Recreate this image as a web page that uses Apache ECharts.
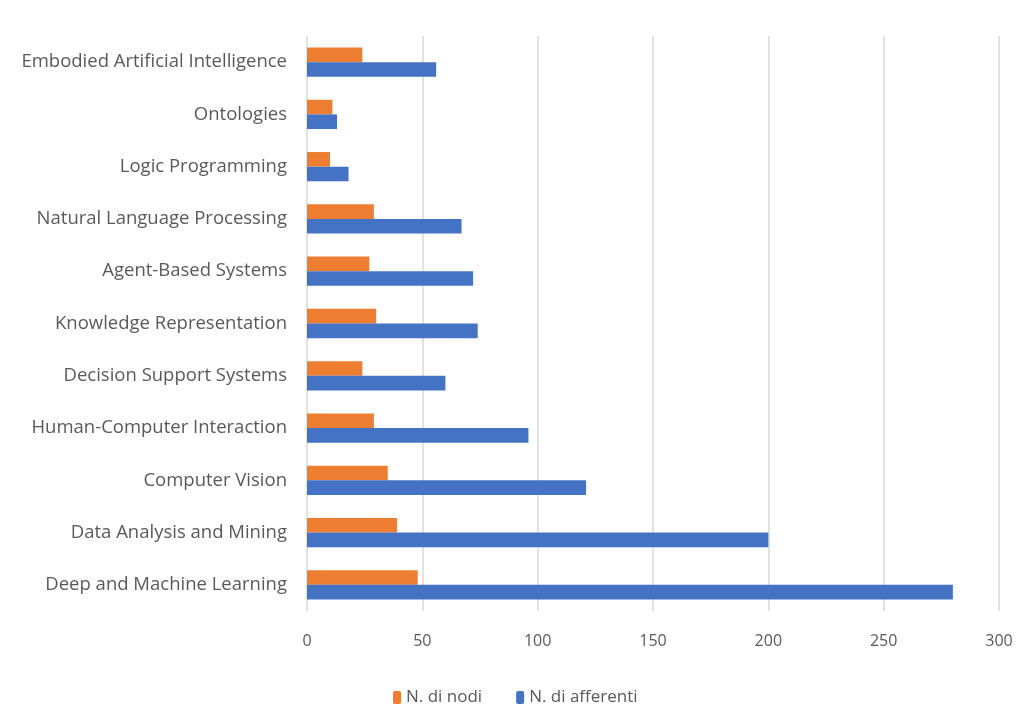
<!DOCTYPE html>
<html>
<head>
<meta charset="utf-8">
<script src="https://cdn.jsdelivr.net/npm/echarts@6/dist/echarts.min.js"></script>
<style>
html,body{margin:0;padding:0;background:#fff;}
#chart{width:1017px;height:709px;}
</style>
</head>
<body>
<div id="chart"></div>
<script>
const categories = [
  'Deep and Machine Learning',
  'Data Analysis and Mining',
  'Computer Vision',
  'Human-Computer Interaction',
  'Decision Support Systems',
  'Knowledge Representation',
  'Agent-Based Systems',
  'Natural Language Processing',
  'Logic Programming',
  'Ontologies',
  'Embodied Artificial Intelligence'
];
const nodi = [48, 39, 35, 29, 24, 30, 27, 29, 10, 11, 24];
const afferenti = [280, 200, 121, 96, 60, 74, 72, 67, 18, 13, 56];
const xTicks = [0, 50, 100, 150, 200, 250, 300];

const chart = echarts.init(document.getElementById('chart'));
const font = '"Open Sans", Lato, sans-serif';
chart.setOption({
  animation: false,
  textStyle: { fontFamily: font },
  grid: { left: 307, right: 18, top: 36, bottom: 98, containLabel: false },
  legend: {
    bottom: -2,
    left: 388,
    itemWidth: 8,
    itemHeight: 13,
    itemGap: 34,
    textStyle: { color: '#595959', fontSize: 17, fontFamily: font },
    data: ['N. di nodi', 'N. di afferenti']
  },
  xAxis: {
    type: 'value',
    min: xTicks[0],
    max: xTicks[xTicks.length - 1],
    interval: 50,
    axisLine: { show: false },
    axisTick: { show: false },
    axisLabel: { color: '#595959', fontSize: 16, margin: 22, fontFamily: font },
    splitLine: { show: true, lineStyle: { color: '#d9d9d9', width: 1.5 } }
  },
  yAxis: {
    type: 'category',
    data: categories,
    axisLine: { show: false },
    axisTick: { show: false },
    axisLabel: { color: '#595959', fontSize: 18.5, margin: 20, fontFamily: font },
    splitLine: { show: false }
  },
  series: [
    {
      name: 'N. di nodi',
      type: 'bar',
      data: nodi,
      itemStyle: { color: '#ED7D31' },
      barGap: '0%',
      barCategoryGap: '44%'
    },
    {
      name: 'N. di afferenti',
      type: 'bar',
      data: afferenti,
      itemStyle: { color: '#4472C4' },
      barGap: '0%',
      barCategoryGap: '44%'
    }
  ]
});
</script>
</body>
</html>
